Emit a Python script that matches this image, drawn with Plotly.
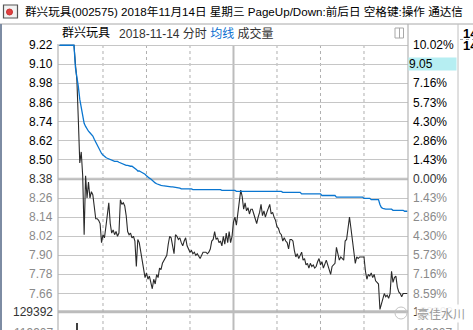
import plotly.graph_objects as go

# ---------------- data ----------------
minutes = list(range(241))

price = [
    9.22, 9.22, 9.22, 9.22, 9.22, 9.22, 9.22, 9.22, 9.22, 9.22,
    9.22, 9.10, 9.00, 8.75, 8.48, 8.55, 8.40, 8.03, 8.40, 8.26,
    8.36, 8.26, 8.30, 8.28, 8.18, 8.13, 8.13, 8.12, 8.10, 7.98,
    8.03, 8.01, 8.08, 8.18, 8.23, 8.10, 8.04, 8.06, 8.03, 8.05,
    8.02, 8.04, 8.25, 8.22, 8.23, 8.21, 8.15, 8.05, 8.03, 8.04,
    8.01, 8.02, 7.99, 7.83, 8.00, 7.98, 7.92, 7.88, 7.80, 7.76,
    7.79, 7.75, 7.77, 7.72, 7.69, 7.75, 7.72, 7.78, 7.76, 7.82,
    7.81, 7.85, 7.87, 7.89, 7.90, 7.97, 8.02, 8.01, 7.95, 7.91,
    8.03, 8.02, 8.00, 8.01, 7.98, 7.96, 7.99, 8.01, 7.96, 7.94,
    7.92, 7.93, 7.91, 7.92, 7.90, 7.91, 7.89, 7.88, 7.90, 7.92,
    7.92, 7.92, 7.91, 7.92, 7.94, 7.99, 8.00, 8.05, 8.00, 8.01,
    7.98, 7.99, 7.96, 8.02, 7.97, 8.04, 7.98, 8.05, 7.98, 8.02,
    8.11, 8.14, 8.09, 8.16, 8.26, 8.31, 8.27, 8.19, 8.23, 8.18,
    8.20, 8.16, 8.19, 8.19, 8.16, 8.12, 8.10, 8.14, 8.17, 8.22,
    8.15, 8.18, 8.14, 8.17, 8.19, 8.22, 8.16, 8.17, 8.14, 8.12,
    8.08, 8.07, 8.04, 8.03, 7.99, 8.01, 7.99, 7.98, 7.94, 8.00,
    8.00, 7.99, 7.93, 7.89, 7.91, 7.88, 7.90, 7.92, 7.87, 7.88,
    7.84, 7.85, 7.82, 7.85, 7.83, 7.84, 7.82, 7.83, 7.86, 7.88,
    7.84, 7.86, 7.82, 7.85, 7.87, 7.84, 7.81, 7.78, 7.83, 7.84,
    7.85, 7.95, 7.90, 7.87, 7.89, 7.88, 7.87, 7.99, 8.00, 8.07,
    8.14, 8.07, 7.99, 7.93, 7.85, 7.89, 7.88, 7.89, 7.89, 7.89,
    7.89, 7.80, 7.75, 7.78, 7.77, 7.79, 7.76, 7.78, 7.74, 7.73,
    7.72, 7.56, 7.60, 7.63, 7.66, 7.64, 7.65, 7.63, 7.66, 7.80,
    7.73, 7.76, 7.77, 7.70, 7.67, 7.66, 7.64, 7.66, 7.66, 7.66,
    7.66,
]

avg_price = [
    9.22, 9.22, 9.22, 9.22, 9.22, 9.22, 9.22, 9.22, 9.22, 9.22,
    9.22, 9.08, 9.03, 8.96, 8.88, 8.83, 8.78, 8.73, 8.71, 8.69,
    8.68, 8.67, 8.66, 8.65, 8.63, 8.61, 8.60, 8.58, 8.56, 8.54,
    8.53, 8.52, 8.515, 8.51, 8.505, 8.50, 8.50, 8.495, 8.49, 8.49,
    8.49, 8.485, 8.48, 8.475, 8.47, 8.47, 8.465, 8.465, 8.46, 8.46,
    8.46, 8.455, 8.45, 8.44, 8.43, 8.43, 8.425, 8.42, 8.42, 8.41,
    8.40, 8.39, 8.385, 8.38, 8.37, 8.36, 8.355, 8.35, 8.345, 8.34,
    8.34, 8.338, 8.336, 8.335, 8.334, 8.333, 8.332, 8.33, 8.33, 8.329,
    8.328, 8.327, 8.326, 8.322, 8.318, 8.318, 8.318, 8.318, 8.318, 8.318,
    8.318, 8.318, 8.313, 8.313, 8.313, 8.313, 8.313, 8.313, 8.313, 8.313,
    8.313, 8.313, 8.313, 8.313, 8.313, 8.313, 8.313, 8.313, 8.313, 8.313,
    8.313, 8.313, 8.308, 8.308, 8.308, 8.308, 8.308, 8.308, 8.308, 8.308,
    8.308, 8.308, 8.302, 8.302, 8.302, 8.302, 8.302, 8.302, 8.302, 8.302,
    8.302, 8.302, 8.302, 8.302, 8.302, 8.302, 8.302, 8.302, 8.302, 8.302,
    8.302, 8.302, 8.302, 8.302, 8.302, 8.302, 8.302, 8.302, 8.302, 8.302,
    8.302, 8.302, 8.302, 8.302, 8.296, 8.296, 8.296, 8.296, 8.296, 8.296,
    8.296, 8.296, 8.296, 8.296, 8.296, 8.296, 8.296, 8.286, 8.286, 8.286,
    8.286, 8.286, 8.286, 8.286, 8.286, 8.286, 8.286, 8.286, 8.286, 8.286,
    8.286, 8.276, 8.276, 8.276, 8.276, 8.276, 8.276, 8.276, 8.276, 8.276,
    8.276, 8.266, 8.266, 8.266, 8.266, 8.266, 8.266, 8.266, 8.266, 8.266,
    8.266, 8.266, 8.266, 8.266, 8.266, 8.266, 8.266, 8.266, 8.266, 8.266,
    8.258, 8.258, 8.258, 8.258, 8.258, 8.25, 8.25, 8.25, 8.25, 8.25,
    8.25, 8.22, 8.20, 8.195, 8.19, 8.19, 8.19, 8.19, 8.19, 8.19,
    8.183, 8.183, 8.183, 8.183, 8.183, 8.183, 8.183, 8.183, 8.177, 8.177,
    8.177,
]

prev_close = 8.38
price_ticks = [9.22, 9.10, 8.98, 8.86, 8.74, 8.62, 8.50, 8.38,
               8.26, 8.14, 8.02, 7.90, 7.78, 7.66]
divider_minutes = [30, 60, 90, 150, 180, 210]
midday_minute = 120

vol_minutes = [12]
vol_values = [124200]
vol_labels = [129392, 119907]

cursor_price = 9.05
cursor_level = 9.10

title_text = "群兴玩具(002575) 2018年11月14日 星期三 PageUp/Down:前后日 空格键:操作 通达信"
stock_name = "群兴玩具"
header_date = "2018-11-14 分时"
header_avg = "均线"
header_vol = "成交量"
side_values = ["14", "14"]
watermark = "豪佳水川"

# ---------------- layout helpers ----------------
W, H = 473, 330
ML, MR, MT, MB = 58, 65, 24, 0
PW, PH = W - ML - MR, H - MT - MB


def pxx(x):
    return (x - ML) / PW


def pyy(y):
    return (H - MB - y) / PH


price_bottom_px = 311.7
price_top_px = 44.0
y_lo, y_hi = 7.546, 9.228

up_col, flat_col, dn_col = "#000000", "#333333", "#8a8a8a"


def tcol(v):
    if v > prev_close + 1e-9:
        return up_col
    if abs(v - prev_close) < 1e-9:
        return flat_col
    return dn_col


left_text = [f"{v:.2f}" for v in price_ticks]
right_text = [f"{abs((v - prev_close) / prev_close * 100):.2f}%" for v in price_ticks]

fig = go.Figure()

fig.add_trace(go.Scatter(x=minutes, y=price, mode="lines",
                         line=dict(color="#2a2a2a", width=1.1), yaxis="y", hoverinfo="skip"))
fig.add_trace(go.Scatter(x=minutes, y=avg_price, mode="lines",
                         line=dict(color="#0a76d0", width=1.3), yaxis="y", hoverinfo="skip"))
fig.add_trace(go.Bar(x=vol_minutes, y=vol_values, yaxis="y2", width=0.7,
                     marker=dict(color="#404040", line=dict(width=0)), hoverinfo="skip"))

grid_col = "#c6c6c6"
thick_col = "#bcbcbc"

shapes = []
# window frame lines
shapes.append(dict(type="line", xref="paper", yref="paper", x0=pxx(0), x1=pxx(W), y0=pyy(24), y1=pyy(24),
                   line=dict(color="#a8a8a8", width=1)))
shapes.append(dict(type="line", xref="paper", yref="paper", x0=pxx(1), x1=pxx(1), y0=pyy(24), y1=pyy(H),
                   line=dict(color="#7d8ca3", width=2)))
# plot borders
shapes.append(dict(type="line", xref="paper", yref="paper", x0=0, x1=0, y0=pyy(H), y1=pyy(44),
                   line=dict(color="#b4b4b4", width=1.2)))
shapes.append(dict(type="line", xref="paper", yref="paper", x0=1, x1=1, y0=pyy(H), y1=pyy(24),
                   line=dict(color="#b4b4b4", width=1.2)))
shapes.append(dict(type="line", xref="paper", yref="paper", x0=pxx(458), x1=pxx(458), y0=pyy(H), y1=pyy(24),
                   line=dict(color="#c0c0c0", width=1)))
# thick prev close line and pane separator
shapes.append(dict(type="line", xref="paper", yref="y", x0=0, x1=1, y0=prev_close, y1=prev_close,
                   line=dict(color=thick_col, width=2.5), layer="below"))
shapes.append(dict(type="line", xref="paper", yref="paper", x0=0, x1=1,
                   y0=pyy(price_bottom_px), y1=pyy(price_bottom_px),
                   line=dict(color=thick_col, width=3), layer="below"))
# vertical time dividers
for m in divider_minutes:
    shapes.append(dict(type="line", xref="x", yref="paper", x0=m, x1=m, y0=0, y1=pyy(45.3),
                       line=dict(color="#b0b0b0", width=1, dash="dot"), layer="below"))
shapes.append(dict(type="line", xref="x", yref="paper", x0=midday_minute, x1=midday_minute, y0=0, y1=pyy(45.3),
                   line=dict(color="#bcbcbc", width=2), layer="below"))
# header small icon
shapes.append(dict(type="rect", xref="paper", yref="paper", x0=pxx(395), x1=pxx(403.5), y0=pyy(38), y1=pyy(28),
                   line=dict(color="#a8a8a8", width=1)))
shapes.append(dict(type="line", xref="paper", yref="paper", x0=pxx(399.5), x1=pxx(399.5), y0=pyy(38), y1=pyy(28),
                   line=dict(color="#a8a8a8", width=1)))
# title bar icon
shapes.append(dict(type="rect", xref="paper", yref="paper", x0=pxx(3.5), x1=pxx(17.5), y0=pyy(18), y1=pyy(5),
                   line=dict(color="#555555", width=1.2), fillcolor="#f2f2f2"))
shapes.append(dict(type="circle", xref="paper", yref="paper", x0=pxx(6.5), x1=pxx(12.5), y0=pyy(15), y1=pyy(9),
                   line=dict(color="#c83030", width=1), fillcolor="#e04040"))
# dotted line in right panel
shapes.append(dict(type="line", xref="paper", yref="paper", x0=pxx(460), x1=pxx(473), y0=pyy(39.5), y1=pyy(39.5),
                   line=dict(color="#a0a0a0", width=1, dash="dot")))
# watermark icon
shapes.append(dict(type="circle", xref="paper", yref="paper", x0=pxx(395), x1=pxx(407), y0=pyy(319), y1=pyy(307),
                   line=dict(color="#c4c4c4", width=1)))

ann = []
lab_font = dict(family="Liberation Sans, Arial, sans-serif", size=12)
mix = "Liberation Sans, Noto Sans CJK SC, sans-serif"

# price / percent labels
for v, lt, rt in zip(price_ticks, left_text, right_text):
    ann.append(dict(x=pxx(54.5), y=v, xref="paper", yref="y", xanchor="right", yanchor="middle",
                    text=lt, showarrow=False, font=dict(lab_font, color=tcol(v))))
    ann.append(dict(x=pxx(410.5), y=v, xref="paper", yref="y", xanchor="left", yanchor="middle",
                    text=rt, showarrow=False, font=dict(lab_font, color=tcol(v))))

ann.append(dict(x=pxx(23), y=pyy(11.5), xref="paper", yref="paper", xanchor="left", yanchor="middle",
                text=title_text, showarrow=False, font=dict(family=mix, size=11.6, color="#000000")))
ann.append(dict(x=pxx(60), y=pyy(33), xref="paper", yref="paper", xanchor="left", yanchor="middle",
                text=stock_name, showarrow=False, font=dict(family=mix, size=12, color="#000000")))
header_rest = (f"{header_date} <span style='color:#0a6fd0'>{header_avg}</span> {header_vol}")
ann.append(dict(x=pxx(117), y=pyy(33), xref="paper", yref="paper", xanchor="left", yanchor="middle",
                text=header_rest, showarrow=False, font=dict(family=mix, size=12, color="#333333")))
ann.append(dict(x=pxx(461), y=pyy(33), xref="paper", yref="paper", xanchor="left", yanchor="middle",
                text=f"<b>{side_values[0]}</b>", showarrow=False,
                font=dict(family="Liberation Sans", size=13, color="#000000")))
ann.append(dict(x=pxx(461), y=pyy(46), xref="paper", yref="paper", xanchor="left", yanchor="middle",
                text=f"<b>{side_values[1]}</b>", showarrow=False,
                font=dict(family="Liberation Sans", size=13, color="#000000")))
# cursor price box
ann.append(dict(x=pxx(408.5), y=cursor_level, xref="paper", yref="y", xanchor="left", yanchor="middle",
                text=f"{cursor_price:.2f}", showarrow=False, align="left", width=47, height=12,
                bgcolor="#b6eef2", borderpad=0, font=dict(lab_font, color="#000000")))
# volume labels
vol_y_px = [312, 332.5]
vol_cols = ["#333333", "#8a8a8a"]
for v, ypix, c in zip(vol_labels, vol_y_px, vol_cols):
    ann.append(dict(x=pxx(54.5), y=pyy(ypix), xref="paper", yref="paper", xanchor="right", yanchor="middle",
                    text=str(v), showarrow=False, font=dict(lab_font, color=c)))
    ann.append(dict(x=pxx(410.5), y=pyy(ypix), xref="paper", yref="paper", xanchor="left", yanchor="middle",
                    text=str(v), showarrow=False, font=dict(lab_font, color=c)))
# watermark
ann.append(dict(x=pxx(416), y=pyy(313), xref="paper", yref="paper", xanchor="left", yanchor="middle",
                text=watermark, showarrow=False, bgcolor="rgba(255,255,255,0.92)", borderpad=0,
                font=dict(family="Noto Sans CJK SC", size=12, color="#9a9a9a")))

fig.update_layout(
    template="none",
    width=W, height=H,
    margin=dict(l=ML, r=MR, t=MT, b=MB, pad=0, autoexpand=False),
    paper_bgcolor="#ffffff", plot_bgcolor="#ffffff",
    showlegend=False,
    bargap=0,
    xaxis=dict(range=[-1.03, 240.35], showgrid=False, zeroline=False, showticklabels=False,
               showline=False, ticks="", fixedrange=True, automargin=False),
    yaxis=dict(domain=[pyy(price_bottom_px), pyy(price_top_px)], range=[y_lo, y_hi],
               tickmode="array", tickvals=price_ticks, showticklabels=False,
               showgrid=True, gridcolor=grid_col, gridwidth=1, zeroline=False,
               ticks="", showline=False, automargin=False),
    yaxis2=dict(domain=[0, pyy(price_bottom_px)], range=[120856, 129392], showgrid=False,
                zeroline=False, showticklabels=False, ticks="", showline=False, automargin=False),
    shapes=shapes,
    annotations=ann,
)

fig.write_html("out.html", config={"displayModeBar": False},
               post_script="document.body.style.margin='0px';document.body.style.padding='0px';")
